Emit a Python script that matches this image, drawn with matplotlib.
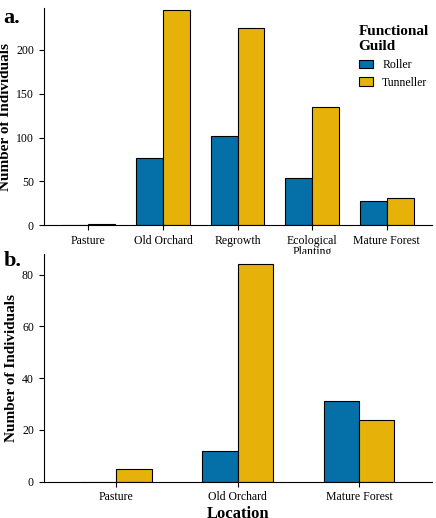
import numpy as np
import matplotlib.pyplot as plt

plt.rcParams['font.family'] = ['Liberation Serif', 'DejaVu Serif']

# panel a
sites_a = ['Pasture', 'Old Orchard', 'Regrowth', 'Ecological\nPlanting', 'Mature Forest']
roller_a = [0, 77, 102, 54, 28]
tunneller_a = [2, 245, 225, 135, 31]

# panel b
sites_b = ['Pasture', 'Old Orchard', 'Mature Forest']
roller_b = [0, 12, 31]
tunneller_b = [5, 84, 24]

c_roll = '#0570a8'
c_tun = '#e6b20a'

fig = plt.figure(figsize=(4.36, 5.18), dpi=100)
ax1 = fig.add_axes([0.1, 0.565, 0.89, 0.42])
ax2 = fig.add_axes([0.1, 0.07, 0.89, 0.44])


def draw(ax, sites, roller, tunneller, ymax, ticks, w):
    x = np.arange(len(sites))
    ax.bar(x - w / 2, roller, w, color=c_roll, edgecolor='black', linewidth=0.8, label='Roller')
    ax.bar(x + w / 2, tunneller, w, color=c_tun, edgecolor='black', linewidth=0.8, label='Tunneller')
    ax.set_xticks(x)
    ax.set_xticklabels(sites, fontsize=8.5, linespacing=0.9)
    ax.set_yticks(ticks)
    ax.tick_params(labelsize=8.5)
    ax.set_ylim(0, ymax)
    ax.set_xlim(-0.6, len(sites) - 0.4)
    for s in ['top', 'right']:
        ax.spines[s].set_visible(False)
    ax.set_ylabel('Number of Individuals', fontsize=11, fontweight='bold', labelpad=3)


draw(ax1, sites_a, roller_a, tunneller_a, 248, [0, 50, 100, 150, 200], 0.36)
draw(ax2, sites_b, roller_b, tunneller_b, 88, [0, 20, 40, 60, 80], 0.29)
ax2.set_xlabel('Location', fontsize=12, fontweight='bold', labelpad=2)

leg = ax1.legend(title='Functional\nGuild', loc='upper right', frameon=False,
                 fontsize=8.5, bbox_to_anchor=(1.02, 0.97), handlelength=1.2)
leg.get_title().set_fontweight('bold')
leg.get_title().set_fontsize(11)
leg._legend_box.align = 'left'

fig.text(0.008, 0.985, 'a.', fontsize=16, fontweight='bold', va='top')
fig.text(0.008, 0.515, 'b.', fontsize=16, fontweight='bold', va='top')

fig.savefig('out.png', dpi=100)
